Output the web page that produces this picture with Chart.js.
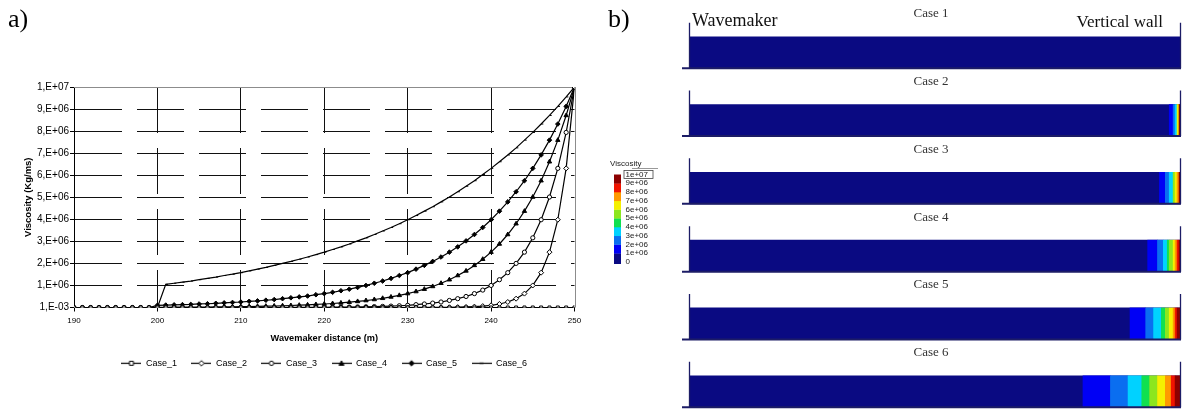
<!DOCTYPE html>
<html lang="en">
<head>
    <meta charset="UTF-8">
    <title>Viscosity profiles</title>
    <script src="https://cdn.jsdelivr.net/npm/chart.js"></script>
    <style>
        body { margin: 0; width: 1184px; height: 410px; position: relative; background: #fff; overflow: hidden; }
        .panel { position: absolute; top: 0; height: 410px; }
    </style>
</head>
<body>
    <div class="panel" style="left:0;width:600px"><canvas id="profileChart"></canvas></div>
    <div class="panel" style="left:600px;width:584px"><canvas id="tankChart"></canvas></div>
    <script>
// distance from wavemaker (m)
const distances = [190,191,192,193,194,195,196,197,198,199,200,201,202,203,204,205,206,207,208,209,
    210,211,212,213,214,215,216,217,218,219,220,221,222,223,224,225,226,227,228,229,
    230,231,232,233,234,235,236,237,238,239,240,241,242,243,244,245,246,247,248,249,250];

// viscosity, in units of 1e6 kg/ms (1,E-03 shown as 0)
const case1 = [0,0,0,0,0,0,0,0,0,0,0,0,0,0,0,0,0,0,0,0,0,0,0,0,0,0,0,0,0,0,
    0,0,0,0,0,0,0,0,0,0,0,0,0,0,0,0,0,0,0,0,0,0,0,0,0,0,0,0,0,0,0];
const case2 = [0,0,0,0,0,0,0,0,0,0,0,0,0,0,0,0,0,0,0,0,0,0,0,0,0,0,0,0,0,0,
    0,0,0,0,0,0,0,0,0,0,0.001,0.002,0.003,0.004,0.006,0.01,0.016,0.025,0.04,0.063,
    0.1,0.16,0.25,0.4,0.63,1.0,1.58,2.51,3.98,6.31,10];
const case3 = [0,0,0,0,0,0,0,0,0,0,0,0,0,0,0,0,0,0,0,0,
    0.001,0.001,0.002,0.002,0.003,0.003,0.004,0.005,0.006,0.008,
    0.01,0.013,0.016,0.02,0.025,0.032,0.04,0.05,0.063,0.079,
    0.1,0.13,0.16,0.2,0.25,0.32,0.4,0.5,0.63,0.79,
    1.0,1.26,1.58,2.0,2.51,3.16,3.98,5.01,6.31,7.94,10];
const case4 = [0,0,0,0,0,0,0,0,0,0,
    0.01,0.011,0.013,0.015,0.017,0.02,0.023,0.026,0.03,0.035,
    0.04,0.046,0.052,0.06,0.069,0.079,0.091,0.105,0.12,0.138,
    0.158,0.182,0.209,0.24,0.275,0.316,0.363,0.417,0.479,0.55,
    0.631,0.724,0.832,0.955,1.1,1.26,1.45,1.66,1.91,2.19,
    2.51,2.88,3.31,3.8,4.37,5.01,5.75,6.61,7.59,8.71,10];
const case5 = [0,0,0,0,0,0,0,0,0,0,
    0.1,0.11,0.12,0.13,0.14,0.16,0.17,0.19,0.21,0.23,
    0.25,0.28,0.3,0.33,0.36,0.4,0.44,0.48,0.52,0.58,
    0.63,0.69,0.76,0.83,0.91,1.0,1.1,1.2,1.32,1.45,
    1.58,1.74,1.91,2.09,2.29,2.51,2.75,3.02,3.31,3.63,
    3.98,4.37,4.79,5.25,5.75,6.31,6.92,7.59,8.32,9.12,10];
const case6 = [0,0,0,0,0,0,0,0,0,0,
    0,1.05,1.1,1.15,1.2,1.26,1.32,1.38,1.45,1.51,
    1.58,1.66,1.74,1.82,1.91,2.0,2.09,2.19,2.29,2.4,
    2.51,2.63,2.75,2.88,3.02,3.16,3.31,3.47,3.63,3.8,
    3.98,4.17,4.37,4.57,4.79,5.01,5.25,5.5,5.75,6.03,
    6.31,6.61,6.92,7.24,7.59,7.94,8.32,8.71,9.12,9.55,10];

const seriesNames = ['Case_1', 'Case_2', 'Case_3', 'Case_4', 'Case_5', 'Case_6'];
const caseNames = ['Case 1', 'Case 2', 'Case 3', 'Case 4', 'Case 5', 'Case 6'];
const yTickLabels = ['1,E-03','1,E+06','2,E+06','3,E+06','4,E+06','5,E+06','6,E+06','7,E+06','8,E+06','9,E+06','1,E+07'];
const colorBarLabels = ['0','1e+06','2e+06','3e+06','4e+06','5e+06','6e+06','7e+06','8e+06','9e+06','1e+07'];

const seriesValues = [case1, case2, case3, case4, case5, case6];

// marker look per series
const markerStyles = ['rect', 'rectRot', 'circle', 'triangle', 'rectRot', 'dash'];
const markerSizes = [2.1, 2.5, 2.1, 2.5, 2.3, 2.2];
const markerFilled = [false, false, false, true, true, true];

// contour colour bands (0-1e6, 1e6-2e6 ... 9e6-1e7)
const bandColors = ['#0a0a82', '#0000f5', '#0a6ef0', '#00d2ff', '#10e050', '#8ce61e',
    '#f5f000', '#ff9a00', '#f01400', '#8c0000'];

const SANS = '"Liberation Sans", Arial, sans-serif';
const SERIF = '"Liberation Serif", "Times New Roman", serif';
Chart.defaults.font.family = SANS;

// small line + marker picture for the legend
function legendGlyph(s) {
    const c = document.createElement('canvas');
    c.width = 20; c.height = 9;
    const g = c.getContext('2d');
    g.strokeStyle = '#000';
    g.lineWidth = 1.2;
    g.beginPath(); g.moveTo(0, 4.5); g.lineTo(20, 4.5); g.stroke();
    g.lineWidth = 1;
    g.fillStyle = markerFilled[s] ? '#000' : '#fff';
    g.beginPath();
    const st = markerStyles[s];
    if (st === 'rect') g.rect(8, 2.5, 4, 4);
    else if (st === 'rectRot') { g.moveTo(10, 1.8); g.lineTo(12.7, 4.5); g.lineTo(10, 7.2); g.lineTo(7.3, 4.5); g.closePath(); }
    else if (st === 'circle') g.arc(10, 4.5, 2.2, 0, Math.PI * 2);
    else if (st === 'triangle') { g.moveTo(10, 2); g.lineTo(12.5, 6.5); g.lineTo(7.5, 6.5); g.closePath(); }
    else { g.rect(8, 3.8, 4, 1.4); }
    if (st !== 'dash') { g.fill(); g.stroke(); } else { g.fill(); }
    return c;
}

const framePlugin = {
    id: 'frame',
    beforeDatasetsDraw(chart) {
        const {ctx, chartArea: a} = chart;
        ctx.save();
        ctx.strokeStyle = '#8c8c8c';
        ctx.lineWidth = 1;
        ctx.beginPath();
        ctx.moveTo(a.left, Math.round(a.top) + 0.5);
        ctx.lineTo(a.right, Math.round(a.top) + 0.5);
        ctx.moveTo(Math.round(a.right) + 0.5, a.top);
        ctx.lineTo(Math.round(a.right) + 0.5, a.bottom);
        ctx.stroke();
        ctx.restore();
    },
    afterDraw(chart) {
        const ctx = chart.ctx;
        ctx.save();
        ctx.fillStyle = '#000';
        ctx.font = '26px ' + SERIF;
        ctx.textBaseline = 'alphabetic';
        ctx.fillText('a)', 8, 27);
        ctx.restore();
    }
};

new Chart(document.getElementById('profileChart'), {
    type: 'line',
    data: {
        datasets: seriesNames.map((name, s) => ({
            label: name,
            data: distances.map((x, i) => ({x: x, y: seriesValues[s][i]})),
            borderColor: '#000',
            borderWidth: 1.2,
            pointStyle: markerStyles[s],
            pointRadius: markerSizes[s],
            pointBackgroundColor: markerFilled[s] ? '#000' : '#fff',
            pointBorderColor: '#000',
            pointBorderWidth: 1,
            tension: 0,
            fill: false
        }))
    },
    options: {
        responsive: true,
        maintainAspectRatio: false,
        animation: false,
        devicePixelRatio: 1,
        layout: { padding: { left: 19, right: 25.5, top: 87, bottom: 32.2 } },
        scales: {
            x: {
                type: 'linear', min: 190, max: 250,
                ticks: { stepSize: 10, color: '#000', font: { size: 8 }, padding: 4, maxRotation: 0 },
                grid: {
                    color: c => (c.tick && (c.tick.value === 190 || c.tick.value === 250)) ? 'rgba(0,0,0,0)' : '#111',
                    lineWidth: 1, tickLength: 4, tickColor: '#000'
                },
                border: { color: '#000', width: 1, dash: [46, 15] },
                title: { display: true, text: 'Wavemaker distance (m)', color: '#000',
                    font: { size: 9.2, weight: 'bold' }, padding: { top: 4, bottom: 0.5 } },
                afterFit: s => { s.height = 36.8; }
            },
            y: {
                min: 0, max: 10,
                ticks: { stepSize: 1, color: '#000', font: { size: 10 }, padding: 1,
                    callback: v => yTickLabels[Math.round(v)] },
                grid: {
                    color: c => (c.tick && (c.tick.value === 0 || c.tick.value === 10)) ? 'rgba(0,0,0,0)' : '#111',
                    lineWidth: 1, tickLength: 4, tickColor: '#000'
                },
                border: { color: '#000', width: 1, dash: [47, 15] },
                title: { display: true, text: 'Viscosity (Kg/ms)', color: '#000',
                    font: { size: 9.5, weight: 'bold' }, padding: { top: 4, bottom: 4 } },
                afterFit: s => { s.width = 55; }
            }
        },
        plugins: {
            legend: {
                position: 'bottom',
                fullSize: false,
                labels: {
                    usePointStyle: true,
                    pointStyleWidth: 20,
                    padding: 14.5,
                    color: '#000',
                    font: { size: 9 },
                    generateLabels: chart => chart.data.datasets.map((ds, i) => ({
                        text: ds.label,
                        pointStyle: legendGlyph(i),
                        fillStyle: '#000',
                        strokeStyle: '#000',
                        lineWidth: 0,
                        hidden: false,
                        datasetIndex: i
                    }))
                }
            },
            tooltip: { enabled: false }
        }
    },
    plugins: [framePlugin]
});

// contour cells of each tank, taken from the viscosity series
const cells = [];
const cellColors = [];
seriesValues.forEach((vals, c) => {
    let seg = null;
    distances.forEach((x, i) => {
        const band = vals[i] >= 1 ? Math.min(9, Math.floor(vals[i])) : 0;
        if (band === 0) { seg = null; return; }
        const a = Math.max(0, x - 0.5), b = Math.min(250, x + 0.5);
        if (seg && seg.band === band) {
            seg.x[1] = b;
        } else {
            seg = { y: caseNames[c], x: [a, b], band: band };
            cells.push(seg);
            cellColors.push(bandColors[band]);
        }
    });
});

const BAR = 31.5;

const tankPlugin = {
    id: 'tankDecor',
    afterDatasetsDraw(chart) {
        const {ctx} = chart;
        const xs = chart.scales.x, ys = chart.scales.y;
        const x0 = xs.getPixelForValue(0), x1 = xs.getPixelForValue(250);
        ctx.save();
        caseNames.forEach((name, i) => {
            const yc = ys.getPixelForValue(i);
            const top = yc - BAR / 2, bottom = yc + BAR / 2;
            // walls and floor
            ctx.strokeStyle = '#1c1c66';
            ctx.lineWidth = 1.3;
            ctx.beginPath();
            ctx.moveTo(x0 - 0.5, top - 14); ctx.lineTo(x0 - 0.5, bottom);
            ctx.moveTo(x1 + 0.5, top - 14); ctx.lineTo(x1 + 0.5, bottom);
            ctx.stroke();
            ctx.lineWidth = 2;
            ctx.beginPath();
            ctx.moveTo(x0 - 8, bottom); ctx.lineTo(x1 + 1, bottom);
            ctx.stroke();
            // title
            ctx.fillStyle = '#333';
            ctx.font = '13px ' + SERIF;
            ctx.textAlign = 'center';
            ctx.textBaseline = 'alphabetic';
            ctx.fillText(name, xs.getPixelForValue(123), top - 19.5);
        });
        ctx.fillStyle = '#111';
        ctx.font = '18px ' + SERIF;
        ctx.textAlign = 'left';
        ctx.fillText('Wavemaker', x0 + 2, 26);
        ctx.font = '17px ' + SERIF;
        ctx.textAlign = 'right';
        ctx.fillText('Vertical wall', x1 - 17, 27);
        ctx.font = '26px ' + SERIF;
        ctx.textAlign = 'left';
        ctx.fillStyle = '#000';
        ctx.fillText('b)', 8, 27);

        // colour bar
        const L = v => 262 - v * 8.75;
        for (let k = 0; k < 10; k++) {
            ctx.fillStyle = bandColors[k];
            ctx.fillRect(14, L(k + 1), 7, L(k) - L(k + 1) + (k === 0 ? 2 : 0.3));
        }
        ctx.font = '8px ' + SANS;
        ctx.fillStyle = '#222';
        ctx.textAlign = 'left';
        ctx.textBaseline = 'alphabetic';
        ctx.fillText('Viscosity', 10, 166);
        ctx.strokeStyle = '#999';
        ctx.lineWidth = 1;
        ctx.beginPath(); ctx.moveTo(32, 168.5); ctx.lineTo(58, 168.5); ctx.stroke();
        ctx.textBaseline = 'middle';
        colorBarLabels.forEach((t, v) => { ctx.fillText(t, 25.5, L(v)); });
        ctx.strokeStyle = '#444';
        ctx.lineWidth = 0.8;
        ctx.strokeRect(24, 170.5, 29, 8);
        ctx.restore();
    }
};

new Chart(document.getElementById('tankChart'), {
    type: 'bar',
    data: {
        datasets: [
            {
                label: 'tank',
                data: caseNames.map(c => ({ y: c, x: [0, 250] })),
                backgroundColor: bandColors[0],
                barThickness: BAR,
                grouped: false,
                borderWidth: 0,
                clip: false,
                order: 2
            },
            {
                label: 'viscosity',
                data: cells,
                backgroundColor: cellColors,
                barThickness: BAR,
                grouped: false,
                borderWidth: 0,
                clip: false,
                order: 1
            }
        ]
    },
    options: {
        indexAxis: 'y',
        responsive: true,
        maintainAspectRatio: false,
        animation: false,
        devicePixelRatio: 1,
        layout: { padding: { left: 90, right: 4, top: 52.5, bottom: 18.5 } },
        scales: {
            x: { type: 'linear', min: 0, max: 250, display: false },
            y: { type: 'category', labels: caseNames, offset: false, display: false }
        },
        plugins: { legend: { display: false }, tooltip: { enabled: false } }
    },
    plugins: [tankPlugin]
});
    </script>
</body>
</html>
